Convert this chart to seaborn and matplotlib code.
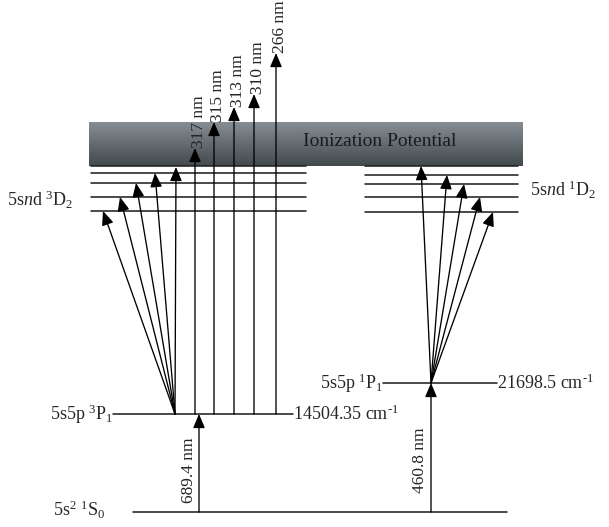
import numpy as np
import pandas as pd
import matplotlib
matplotlib.use("Agg")
import matplotlib.pyplot as plt
import seaborn as sns

sns.set_theme(style="white")
plt.rcParams['font.family'] = ['Liberation Serif', 'DejaVu Serif']
plt.rcParams['mathtext.fontset'] = 'custom'
plt.rcParams['mathtext.rm'] = 'Liberation Serif'
plt.rcParams['mathtext.it'] = 'Liberation Serif:italic'
plt.rcParams['mathtext.bf'] = 'Liberation Serif:bold'

# ---- diagram data (diagram units: x across, y = level height on page) ----
ground_level = 512
triplet_p_level = 414
singlet_p_level = 383
left_d_levels = [166, 173, 183, 197, 211]
right_d_levels = [166, 175, 184, 197, 212]
ionization_top, ionization_bottom = 122, 166

left_fan_origin_x = 175
left_fan_tips_x = [103, 120, 136, 155, 176]
left_fan_targets = [211, 197, 183, 173, 167]

right_fan_origin_x = 431
right_fan_tips_x = [421, 447, 464, 480, 493]
right_fan_targets = [166, 175, 184, 197, 212]

ion_arrow_x = [195, 214, 234, 254, 276]
ion_arrow_tips = [148, 122, 107, 94, 53]
ion_arrow_labels = ['317 nm', '315 nm', '313 nm', '310 nm', '266 nm']

pump_red_x, pump_red_label = 199, '689.4 nm'
pump_blue_x, pump_blue_label = 431, '460.8 nm'

triplet_energy_label = r'14504.35 cm$^{\text{-}1}$'
singlet_energy_label = r'21698.5 cm$^{\text{-}1}$'

# ---- figure ----
fig = plt.figure(figsize=(6.09, 5.27), dpi=100)
ax = fig.add_axes([0, 0, 1, 1])
ax.set_axis_off()

# ionization band gradient
grad = np.linspace(0, 1, 100)[:, None]
top_c = np.array([0x86, 0x8d, 0x93]) / 255
bot_c = np.array([0x43, 0x4a, 0x4e]) / 255
img = top_c[None, None, :] * (1 - grad[..., None]) + bot_c[None, None, :] * grad[..., None]
img = np.repeat(img, 2, axis=1)
ax.imshow(img, extent=(89, 523, ionization_bottom, ionization_top), aspect='auto',
          origin='upper', zorder=1, interpolation='bilinear')

# level segments
segs = []
def add_seg(name, x0, x1, y):
    segs.append({'seg': name, 'x': x0, 'y': y})
    segs.append({'seg': name, 'x': x1, 'y': y})

add_seg('ground', 133, 507, ground_level)
add_seg('3P1', 113, 293, triplet_p_level)
add_seg('1P1', 383, 497, singlet_p_level)
for i, y in enumerate(left_d_levels):
    add_seg(f'L{i}', 91, 306, y)
for i, y in enumerate(right_d_levels):
    add_seg(f'R{i}', 365, 518, y)
df = pd.DataFrame(segs)
sns.lineplot(data=df, x='x', y='y', units='seg', estimator=None, sort=False,
             color='#222222', lw=1.15, ax=ax, zorder=2, legend=False)

ax.set_xlim(0, 609)
ax.set_ylim(527, 0)

arrow_kw = dict(arrowstyle='-|>,head_length=0.85,head_width=0.36', mutation_scale=10,
                color='black', lw=0.95, shrinkA=0, shrinkB=0)

def arrow(x0, y0, x1, y1):
    ax.annotate('', xy=(x1, y1), xytext=(x0, y0), arrowprops=arrow_kw, zorder=3)

for xt, yt in zip(left_fan_tips_x, left_fan_targets):
    arrow(left_fan_origin_x, triplet_p_level, xt, yt)
for xt, yt in zip(right_fan_tips_x, right_fan_targets):
    arrow(right_fan_origin_x, singlet_p_level, xt, yt)
for xa, yt, lab in zip(ion_arrow_x, ion_arrow_tips, ion_arrow_labels):
    arrow(xa, triplet_p_level, xa, yt)
    ax.text(xa + 4, yt, lab, rotation=90, ha='center', va='bottom', fontsize=12.5, zorder=4)

arrow(pump_red_x, ground_level, pump_red_x, triplet_p_level)
arrow(pump_blue_x, ground_level, pump_blue_x, singlet_p_level)
ax.text(pump_red_x - 10, 470, pump_red_label, rotation=90, ha='center', va='center', fontsize=12.5)
ax.text(pump_blue_x - 11, 460, pump_blue_label, rotation=90, ha='center', va='center', fontsize=12.5)

fs = 13
ax.text(113, triplet_p_level, r'5s5p $^{3}$P$_{1}$', ha='right', va='center', fontsize=fs)
ax.text(293, triplet_p_level, triplet_energy_label, ha='left', va='center', fontsize=fs)
ax.text(383, singlet_p_level, r'5s5p $^{1}$P$_{1}$', ha='right', va='center', fontsize=fs)
ax.text(497, singlet_p_level, singlet_energy_label, ha='left', va='center', fontsize=fs)
ax.text(53, ground_level - 2, r'5s$^{2}$ $^{1}$S$_{0}$', ha='left', va='center', fontsize=fs)
ax.text(7, 200, r'5s$\it{n}$d $^{3}$D$_{2}$', ha='left', va='center', fontsize=fs)
ax.text(530, 190, r'5s$\it{n}$d $^{1}$D$_{2}$', ha='left', va='center', fontsize=fs)
ax.text(303, 141, 'Ionization Potential', ha='left', va='center', fontsize=14, color='#1a1a1a', zorder=4)

fig.savefig('out.png', dpi=100)
